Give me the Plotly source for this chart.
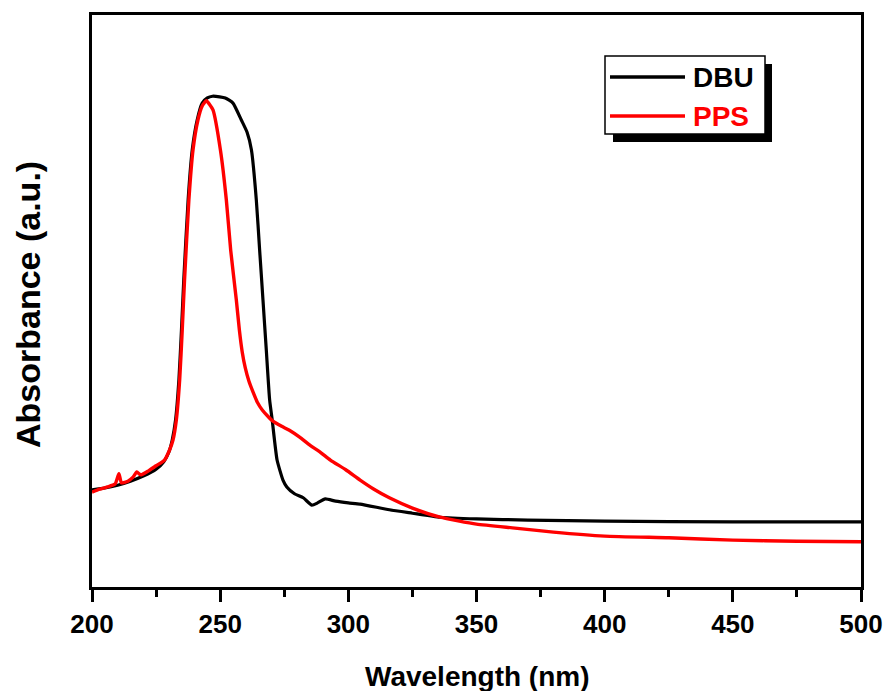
import plotly.graph_objects as go

# ---- data (absorbance in arbitrary units) ----
series_names = ["DBU", "PPS"]
series_colors = ["#000000", "#ff0000"]

dbu_wl = [200, 205, 210, 215, 220, 225, 228, 230, 231.3, 232.6, 233.9, 234.9, 235.8,
          237.5, 239.1, 241, 243, 245, 247, 249.8, 252, 255, 258.3, 260.5, 262.2,
          264.1, 265.4, 266.7, 268, 269.3, 270.3, 272.2, 274.5, 276, 279, 282.4,
          285.8, 288, 291, 295, 300, 304.6, 316, 325, 335.8, 350, 370, 400, 450, 500]
dbu_abs = [0.170, 0.173, 0.178, 0.185, 0.194, 0.206, 0.219, 0.236, 0.257, 0.292, 0.362,
           0.449, 0.537, 0.677, 0.764, 0.816, 0.846, 0.855, 0.858, 0.857, 0.855, 0.846,
           0.816, 0.795, 0.764, 0.677, 0.589, 0.502, 0.414, 0.327, 0.292, 0.222, 0.187,
           0.175, 0.163, 0.156, 0.143, 0.147, 0.154, 0.150, 0.147, 0.145, 0.135, 0.129,
           0.122, 0.119, 0.117, 0.115, 0.114, 0.114]

pps_wl = [200, 203, 206, 209, 210.5, 211.5, 214, 216, 217.5, 219, 222, 225, 228.3, 230.3,
          231.6, 232.9, 234.2, 235.2, 236.1, 237.8, 239.4, 241.3, 243, 244.6, 245.8,
          247.2, 250.1, 252.4, 254.1, 256.3, 257.5, 258.6, 259.8, 261.2, 262.8, 264.5,
          266.5, 268.5, 270.6, 274, 277, 281, 285, 289, 293, 299, 304.6, 310, 316, 325,
          335.8, 350, 365, 380, 400, 425, 450, 475, 500]
pps_abs = [0.166, 0.171, 0.175, 0.180, 0.198, 0.182, 0.185, 0.192, 0.201, 0.196, 0.203,
           0.212, 0.222, 0.240, 0.257, 0.292, 0.362, 0.449, 0.537, 0.677, 0.764, 0.816,
           0.841, 0.850, 0.844, 0.834, 0.764, 0.677, 0.589, 0.502, 0.449, 0.411, 0.383,
           0.360, 0.341, 0.323, 0.309, 0.299, 0.290, 0.281, 0.274, 0.262, 0.248, 0.236,
           0.222, 0.205, 0.187, 0.171, 0.156, 0.138, 0.122, 0.110, 0.103, 0.096, 0.089,
           0.086, 0.082, 0.080, 0.079]

x_ticks = [200, 250, 300, 350, 400, 450, 500]
x_title = "Wavelength (nm)"
y_title = "Absorbance (a.u.)"

FONT = "Liberation Sans, Arial, sans-serif"

fig = go.Figure()
fig.add_trace(go.Scatter(x=dbu_wl, y=dbu_abs, mode="lines", name=series_names[0],
                         line=dict(color=series_colors[0], width=3.2, shape="spline", smoothing=0.5),
                         showlegend=False))
fig.add_trace(go.Scatter(x=pps_wl, y=pps_abs, mode="lines", name=series_names[1],
                         line=dict(color=series_colors[1], width=3.4, shape="spline", smoothing=0.5),
                         showlegend=False))

W, H = 889, 691
ML, MR, MT, MB = 92, 28, 15, 104
BX0, BX1, BY0, BY1 = ML, W - MR, MT, H - MB

def px(x):
    return (x - BX0) / (BX1 - BX0)

def py(y):
    return (BY1 - y) / (BY1 - BY0)

# manual legend: shadow, box, line samples, labels
shapes = [
    dict(type="rect", xref="paper", yref="paper", x0=px(613), x1=px(772), y0=py(142), y1=py(64),
         fillcolor="black", line=dict(width=0), layer="above"),
    dict(type="rect", xref="paper", yref="paper", x0=px(605), x1=px(765), y0=py(134), y1=py(56),
         fillcolor="white", line=dict(color="black", width=1.5), layer="above"),
]
annotations = []
row_y = [77, 116]
for name, col, ry in zip(series_names, series_colors, row_y):
    shapes.append(dict(type="line", xref="paper", yref="paper", x0=px(610), x1=px(685),
                       y0=py(ry), y1=py(ry), line=dict(color=col, width=3.5), layer="above"))
    annotations.append(dict(xref="paper", yref="paper", x=px(691), y=py(ry), text=name,
                            showarrow=False, xanchor="left", yanchor="middle",
                            font=dict(family=FONT, size=28, color=col, weight="bold")))

# axis titles as annotations (explicit placement)
annotations.append(dict(xref="paper", yref="paper", x=px(477), y=py(676), text=x_title,
                        showarrow=False, xanchor="center", yanchor="middle",
                        font=dict(family=FONT, size=28, color="black", weight="bold")))
annotations.append(dict(xref="paper", yref="paper", x=px(28), y=py(305), text=y_title,
                        showarrow=False, xanchor="center", yanchor="middle", textangle=-90,
                        font=dict(family=FONT, size=34, color="black", weight="bold")))

fig.update_layout(
    width=W, height=H,
    margin=dict(l=ML, r=MR, t=MT, b=MB),
    paper_bgcolor="white", plot_bgcolor="white",
    shapes=shapes, annotations=annotations,
    xaxis=dict(range=[200, 500], tickvals=x_ticks, ticktext=[str(v) for v in x_ticks],
               automargin=False,
               showgrid=False, zeroline=False, showline=True, linecolor="black", linewidth=3,
               mirror=True, ticks="outside", ticklen=12, tickwidth=3, tickcolor="black",
               minor=dict(dtick=25, tick0=200, ticks="outside", ticklen=7, tickwidth=3,
                          tickcolor="black", showgrid=False),
               tickfont=dict(family=FONT, size=26, color="black", weight="bold")),
    yaxis=dict(range=[0, 1], showticklabels=False, ticks="", showgrid=False, zeroline=False,
               automargin=False,
               showline=True, linecolor="black", linewidth=3, mirror=True),
)

fig.write_html("out.html")
